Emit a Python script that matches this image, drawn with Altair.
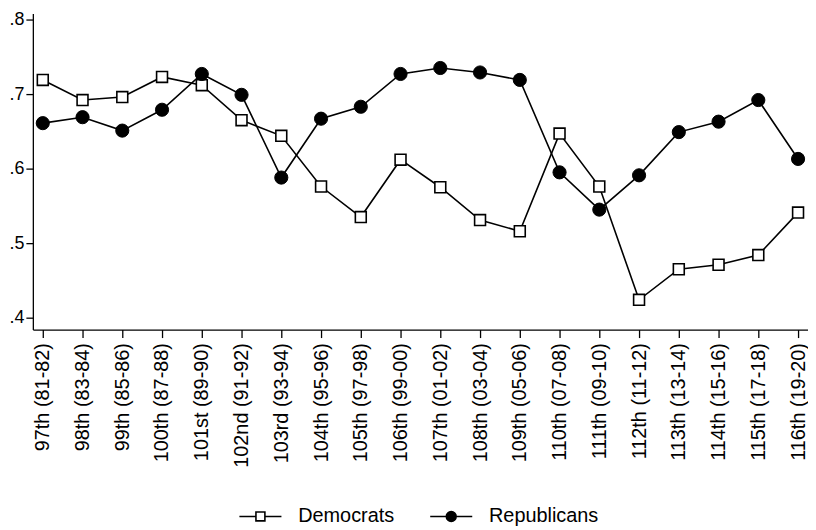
import altair as alt
import pandas as pd

congress = ["97th (81-82)", "98th (83-84)", "99th (85-86)", "100th (87-88)", "101st (89-90)",
            "102nd (91-92)", "103rd (93-94)", "104th (95-96)", "105th (97-98)", "106th (99-00)",
            "107th (01-02)", "108th (03-04)", "109th (05-06)", "110th (07-08)", "111th (09-10)",
            "112th (11-12)", "113th (13-14)", "114th (15-16)", "115th (17-18)", "116th (19-20)"]
democrats = [0.719, 0.692, 0.696, 0.723, 0.712, 0.665, 0.644, 0.576, 0.535, 0.612,
             0.575, 0.531, 0.516, 0.647, 0.576, 0.424, 0.465, 0.471, 0.484, 0.541]
republicans = [0.661, 0.669, 0.651, 0.679, 0.727, 0.699, 0.588, 0.667, 0.683, 0.727,
               0.735, 0.729, 0.719, 0.595, 0.545, 0.591, 0.649, 0.663, 0.692, 0.613]
parties = ["Democrats", "Republicans"]
y_ticks = [0.4, 0.5, 0.6, 0.7, 0.8]

rows = []
for i, c in enumerate(congress):
    rows.append({"congress": c, "party": "Democrats", "value": democrats[i], "order": i})
    rows.append({"congress": c, "party": "Republicans", "value": republicans[i], "order": i})
df = pd.DataFrame(rows)
legend_df = pd.DataFrame({"party": parties})

x_enc = alt.X("congress:N", sort=congress,
              scale=alt.Scale(type="point", padding=0.25),
              axis=alt.Axis(title=None, labelAngle=-90, labelFontSize=20, tickSize=8,
                            labelPadding=5, grid=False))
y_enc = alt.Y("value:Q",
              scale=alt.Scale(domain=[0.384, 0.808], nice=False, zero=False),
              axis=alt.Axis(title=None, values=y_ticks, labelFontSize=18, tickSize=7,
                            labelExpr="substring(format(datum.value, '.1f'), 1)", grid=False))

base = alt.Chart(df)

line = base.mark_line(color="black", strokeWidth=1.6).encode(
    x=x_enc, y=y_enc, detail="party:N", order="order:Q")

dem_pts = base.transform_filter(alt.datum.party == "Democrats").mark_square(
    fill="white", stroke="black", strokeWidth=1.6, size=120, opacity=1).encode(x=x_enc, y=y_enc)
rep_pts = base.transform_filter(alt.datum.party == "Republicans").mark_circle(
    fill="black", stroke="black", strokeWidth=1, size=175, opacity=1).encode(x=x_enc, y=y_enc)

main = alt.layer(line, dem_pts, rep_pts).properties(width=780, height=318)

# legend drawn as its own small chart
dem_path = "M-4.7,0H-1M1,0H4.7M-1,-1H1V1H-1Z"
rep_path = "M-4.7,0H-1.1M1.1,0H4.7M-1.1,0A1.1,1.1,0,1,1,1.1,0A1.1,1.1,0,1,1,-1.1,0Z"

lx = alt.X("party:N", scale=alt.Scale(type="point", domain=parties, range=[229, 421], padding=0), axis=None)
lbase = alt.Chart(legend_df)
leg_sym = lbase.mark_point(stroke="black", strokeWidth=1.6, size=81, opacity=1).encode(
    x=lx,
    shape=alt.Shape("party:N", scale=alt.Scale(domain=parties, range=[dem_path, rep_path]), legend=None),
    fill=alt.Fill("party:N", scale=alt.Scale(domain=parties, range=["white", "black"]), legend=None),
)
leg_txt = lbase.mark_text(align="left", baseline="middle", dx=38, fontSize=20, color="black").encode(
    x=lx, text="party:N")
legend_chart = alt.layer(leg_sym, leg_txt).properties(width=780, height=20)

chart = alt.vconcat(main, legend_chart, spacing=39).properties(
    padding={"left": 0, "top": 0, "right": 0, "bottom": 0}
).configure(font="Liberation Sans").configure_view(stroke=None).configure_axis(
    domainColor="black", tickColor="black", labelColor="black", domainWidth=1.3, tickWidth=1.3
)

chart.save("out.html", embed_options={"renderer": "svg", "actions": False})
